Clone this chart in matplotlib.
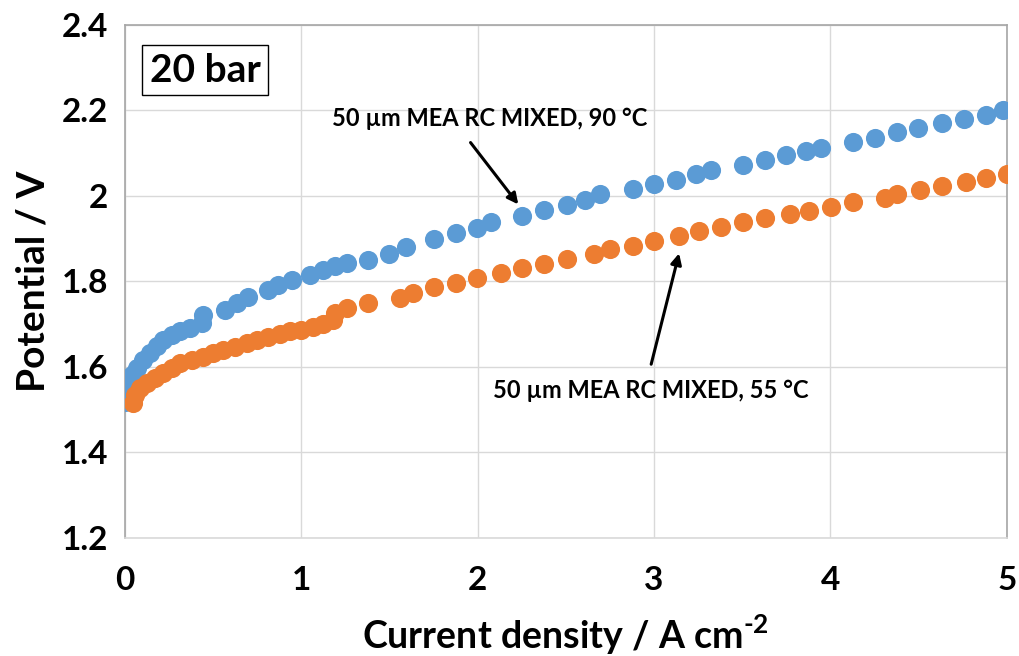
import numpy as np
import matplotlib
matplotlib.use("Agg")
import matplotlib.pyplot as plt

plt.rcParams['font.family'] = ['Lato', 'DejaVu Sans']
plt.rcParams['font.weight'] = 'bold'
plt.rcParams['mathtext.fontset'] = 'custom'
plt.rcParams['mathtext.rm'] = 'Lato:bold'
plt.rcParams['mathtext.bf'] = 'Lato:bold'

# polarisation curve, 90 °C
j_90 = [0.0, 0.0, 0.019, 0.038, 0.066, 0.104, 0.142, 0.18, 0.217, 0.265, 0.312,
        0.368, 0.435, 0.444, 0.567, 0.633, 0.699, 0.812, 0.869, 0.945, 1.049,
        1.124, 1.19, 1.257, 1.378, 1.497, 1.593, 1.752, 1.875, 1.997, 2.073,
        2.252, 2.377, 2.504, 2.608, 2.693, 2.882, 3.0, 3.127, 3.237, 3.322,
        3.505, 3.632, 3.751, 3.861, 3.949, 4.129, 4.255, 4.380, 4.494, 4.633,
        4.758, 4.881, 4.979]
u_90 = [1.519, 1.542, 1.562, 1.581, 1.597, 1.616, 1.632, 1.648, 1.662, 1.675,
        1.683, 1.691, 1.702, 1.722, 1.733, 1.749, 1.764, 1.78, 1.792, 1.803,
        1.815, 1.827, 1.835, 1.843, 1.850, 1.864, 1.881, 1.899, 1.913, 1.924,
        1.938, 1.952, 1.966, 1.979, 1.991, 2.004, 2.016, 2.027, 2.037, 2.051,
        2.061, 2.072, 2.084, 2.096, 2.104, 2.112, 2.125, 2.136, 2.149, 2.158,
        2.171, 2.179, 2.189, 2.201]

# polarisation curve, 55 °C
j_55 = [0.047, 0.057, 0.085, 0.123, 0.17, 0.217, 0.265, 0.312, 0.378, 0.444,
        0.5, 0.557, 0.624, 0.69, 0.747, 0.812, 0.879, 0.935, 1.0, 1.067, 1.124,
        1.181, 1.19, 1.257, 1.379, 1.559, 1.631, 1.752, 1.875, 1.997, 2.13,
        2.252, 2.377, 2.504, 2.659, 2.753, 2.882, 3.0, 3.142, 3.254, 3.379,
        3.505, 3.632, 3.77, 3.878, 4.002, 4.129, 4.312, 4.380, 4.507, 4.633,
        4.768, 4.885, 5.0]
u_55 = [1.515, 1.534, 1.55, 1.562, 1.574, 1.585, 1.597, 1.609, 1.616, 1.624,
        1.632, 1.64, 1.646, 1.655, 1.663, 1.669, 1.677, 1.683, 1.687, 1.694,
        1.701, 1.71, 1.726, 1.737, 1.749, 1.761, 1.772, 1.786, 1.796, 1.807,
        1.819, 1.831, 1.841, 1.853, 1.864, 1.875, 1.884, 1.895, 1.906, 1.917,
        1.928, 1.938, 1.948, 1.958, 1.965, 1.975, 1.985, 1.995, 2.005, 2.014,
        2.024, 2.032, 2.043, 2.051]

xticks = [0, 1, 2, 3, 4, 5]
yticks = [1.2, 1.4, 1.6, 1.8, 2.0, 2.2, 2.4]
ytick_labels = ['1.2', '1.4', '1.6', '1.8', '2', '2.2', '2.4']

fig = plt.figure(figsize=(10.2, 6.56), dpi=100)
ax = fig.add_axes([0.1225, 0.18, 0.8645, 0.782])

ax.scatter(j_90, u_90, s=190, color='#5B9BD5', zorder=3, linewidths=0)
ax.scatter(j_55, u_55, s=190, color='#ED7D31', zorder=3, linewidths=0)

ax.set_xlim(0, 5)
ax.set_ylim(1.2, 2.4)
ax.set_xticks(xticks)
ax.set_yticks(yticks)
ax.set_yticklabels(ytick_labels)
ax.tick_params(length=0, labelsize=24)
ax.tick_params(axis='x', pad=20)
ax.tick_params(axis='y', pad=12)
ax.grid(True, color='#D9D9D9', linewidth=1)
ax.set_axisbelow(True)
for sp in ax.spines.values():
    sp.set_color('#A6A6A6')
    sp.set_linewidth(1.2)
ax.spines['bottom'].set_color('#D9D9D9')

ax.set_xlabel('Current density / A cm$^{\\text{-}2}$', fontsize=27,
              fontweight='bold', labelpad=13)
ax.set_ylabel('Potential / V', fontsize=28, fontweight='bold', labelpad=8)

ax.text(0.091, 0.912, '20 bar', transform=ax.transAxes, fontsize=28,
        fontweight='bold', ha='center', va='center',
        bbox=dict(boxstyle='square,pad=0.2', facecolor='white', edgecolor='black', linewidth=1))

ax.annotate('', xy=(2.24, 1.975), xytext=(1.95, 2.13),
            arrowprops=dict(arrowstyle='-|>', color='black', lw=2.2, mutation_scale=16))
ax.text(2.07, 2.182, '50 µm MEA RC MIXED, 90 °C', fontsize=17, fontweight='bold',
        ha='center', va='center')

ax.annotate('', xy=(3.146, 1.872), xytext=(2.98, 1.60),
            arrowprops=dict(arrowstyle='-|>', color='black', lw=2.2, mutation_scale=16))
ax.text(2.98, 1.546, '50 µm MEA RC MIXED, 55 °C', fontsize=17, fontweight='bold',
        ha='center', va='center')

fig.savefig('out.png', dpi=100)
